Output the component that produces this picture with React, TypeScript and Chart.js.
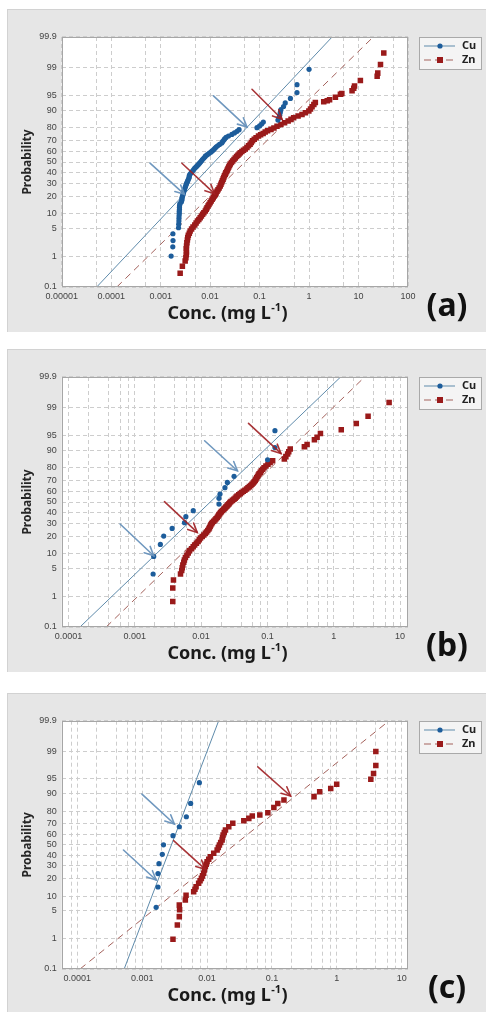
import React, { useEffect, useRef } from "react";
import { Chart, registerables } from "chart.js";
Chart.register(...registerables);

// ---------- data (x = concentration mg/L, p = cumulative probability %) ----------
const PROB_TICKS = [0.1, 1, 5, 10, 20, 30, 40, 50, 60, 70, 80, 90, 95, 99, 99.9];
const PROB_LABELS = ["0.1", "1", "5", "10", "20", "30", "40", "50", "60", "70", "80", "90", "95", "99", "99.9"];

const xDecadesA = [1e-5, 1e-4, 1e-3, 1e-2, 1e-1, 1, 10, 100];
const xLabelsA = ["0.00001", "0.0001", "0.001", "0.01", "0.1", "1", "10", "100"];
const xDecadesBC = [1e-4, 1e-3, 1e-2, 1e-1, 1, 10];
const xLabelsBC = ["0.0001", "0.001", "0.01", "0.1", "1", "10"];

const cuA = [[0.00163,1.0],[0.00176,1.8],[0.00178,2.6],[0.00177,3.8],[0.0023,5.2],[0.00232,6.2],[0.00234,7.2],[0.00235,8.2],[0.00236,9.2],[0.00238,10.2],[0.00238,11.2],[0.0024,12.2],[0.0024,13.2],[0.00242,14.2],[0.00245,15.2],[0.00262,16.2],[0.00268,17.2],[0.0027,18.2],[0.00272,19.2],[0.00278,20.2],[0.00285,21.2],[0.0029,22.4],[0.00295,23.6],[0.00303,24.8],[0.0031,26],[0.00318,27.2],[0.00325,28.4],[0.00333,29.6],[0.00342,30.8],[0.00352,32],[0.00362,33.2],[0.00372,34.4],[0.00378,35.6],[0.0038,36.8],[0.0039,38],[0.0041,39.2],[0.0043,40.4],[0.0045,41.6],[0.0047,42.8],[0.0049,44],[0.0052,45.2],[0.0055,46.4],[0.0058,47.6],[0.0061,48.8],[0.0064,50],[0.0067,51.2],[0.007,52.4],[0.0074,53.6],[0.0078,54.8],[0.0081,56],[0.0088,57.2],[0.0095,58.4],[0.0103,59.6],[0.011,60.8],[0.0118,62],[0.0125,63.2],[0.0132,64.4],[0.0142,65.6],[0.0155,66.8],[0.0172,68],[0.0178,69.2],[0.0188,70.4],[0.0196,71.6],[0.021,72.8],[0.0235,74],[0.0275,75.2],[0.031,76.4],[0.035,77.6],[0.0385,78.8],[0.0886,80.2],[0.1,81.4],[0.11,82.6],[0.119,83.8],[0.235,85.0],[0.245,86.3],[0.255,87.6],[0.262,88.9],[0.27,90.2],[0.305,91.5],[0.33,92.8],[0.42,94.2],[0.57,95.7],[0.57,97.2],[1.0,98.9]];

const znA = [[0.00248,0.3],[0.00275,0.5],[0.00313,0.72],[0.00324,0.9],[0.0033,1.1],[0.00333,1.3],[0.00329,1.6],[0.00334,1.9],[0.00339,2.3],[0.00347,2.7],[0.00353,3.1],[0.00363,3.5],[0.0038,3.9],[0.00395,4.4],[0.00422,4.9],[0.00451,5.4],[0.0049,6.0],[0.00521,6.6],[0.00555,7.2],[0.00592,7.8],[0.0063,8.4],[0.00667,9.1],[0.00706,9.8],[0.00748,10.5],[0.008,11.3],[0.00834,12.1],[0.00867,12.9],[0.00908,13.8],[0.0095,14.7],[0.01,15.7],[0.0105,16.7],[0.011,17.8],[0.01156,18.9],[0.01213,20.0],[0.0127,21.0],[0.01324,22.2],[0.0138,23.4],[0.01445,24.7],[0.0152,26.1],[0.016,27.6],[0.01656,29.1],[0.0171,30.6],[0.0177,32.1],[0.0183,33.6],[0.0189,35.1],[0.0195,36.6],[0.0202,38.0],[0.0208,39.4],[0.0216,40.8],[0.0223,42.2],[0.023,43.6],[0.0238,45.0],[0.0247,46.5],[0.0255,48.0],[0.027,49.5],[0.0286,51.0],[0.0304,52.5],[0.0322,54.0],[0.0343,55.3],[0.0364,56.6],[0.0385,57.8],[0.0407,59.0],[0.0439,60.2],[0.0473,61.4],[0.0513,62.7],[0.0556,64.0],[0.0598,65.5],[0.0643,67.0],[0.068,68.5],[0.072,70.0],[0.078,71.3],[0.085,72.6],[0.095,74.0],[0.105,75.0],[0.118,76.0],[0.13,77.0],[0.145,78.0],[0.17,79.0],[0.195,80.0],[0.225,81.2],[0.27,82.3],[0.32,83.4],[0.378,84.4],[0.432,85.4],[0.488,86.3],[0.6,87.2],[0.721,88.0],[0.845,88.8],[0.99,89.6],[1.07,90.5],[1.15,91.4],[1.25,92.2],[1.34,92.9],[1.98,93.2],[2.33,93.5],[2.6,93.8],[3.41,94.5],[4.3,95.3],[4.6,95.5],[7.4,96.1],[8.0,96.6],[8.3,97.0],[10.9,97.8],[23.8,98.3],[24.5,98.6],[27.8,99.2],[32.4,99.65]];

const cuB = [[0.00189,3.75],[0.00193,8.9],[0.00243,14.7],[0.00273,20],[0.00366,25.7],[0.00562,30.5],[0.00589,35.8],[0.00762,41.5],[0.0186,48],[0.0186,53.6],[0.0193,57.8],[0.0229,63.8],[0.0249,68.6],[0.0314,73.7],[0.1007,85.2],[0.13,91.1],[0.13,96.1]];

const znB = [[0.00374,0.69],[0.00374,1.67],[0.00383,2.7],[0.00489,3.75],[0.0051,4.5],[0.0052,5.2],[0.0053,6.0],[0.00548,6.8],[0.0056,7.6],[0.0058,8.5],[0.0061,9.4],[0.0064,10.4],[0.0067,11.4],[0.0072,12.4],[0.0076,13.4],[0.008,14.4],[0.0085,15.4],[0.009,16.4],[0.0094,17.5],[0.0098,18.6],[0.0104,19.7],[0.011,20.8],[0.0116,21.9],[0.0121,23.0],[0.0126,24.1],[0.0131,25.2],[0.0134,26.3],[0.0137,27.4],[0.014,28.5],[0.0144,29.6],[0.0148,30.7],[0.0155,31.8],[0.0162,32.9],[0.0168,34.0],[0.0175,35.1],[0.018,36.2],[0.0185,37.3],[0.019,38.4],[0.0196,39.5],[0.0202,40.6],[0.0211,41.7],[0.022,42.8],[0.0228,43.9],[0.0236,45.0],[0.0245,46.1],[0.0254,47.2],[0.0263,48.3],[0.0272,49.4],[0.0282,50.5],[0.0297,51.6],[0.0312,52.7],[0.0326,53.8],[0.0338,54.9],[0.035,56.0],[0.037,57.1],[0.039,58.2],[0.041,59.3],[0.0433,60.4],[0.0458,61.5],[0.0485,62.6],[0.051,63.7],[0.0535,64.8],[0.0562,65.9],[0.0585,67.0],[0.061,68.1],[0.0632,69.2],[0.0655,70.3],[0.067,71.4],[0.069,72.5],[0.071,73.6],[0.073,74.7],[0.075,75.8],[0.078,76.9],[0.081,78.0],[0.085,79.1],[0.089,80.2],[0.095,81.3],[0.102,82.4],[0.11,83.5],[0.12,84.6],[0.18,85.6],[0.19,86.9],[0.202,88.2],[0.21,89.3],[0.221,90.5],[0.361,91.4],[0.397,92.2],[0.512,93.8],[0.562,94.5],[0.631,95.5],[1.3,96.3],[2.19,97.4],[3.3,98.3],[6.85,99.3]];

const cuC = [[0.00164,6.0],[0.00175,14.7],[0.00175,23.7],[0.00181,32],[0.00204,40.7],[0.00213,50],[0.00298,59],[0.00373,67.4],[0.00479,75.8],[0.00558,84.9],[0.0076,93.9]];

const znC = [[0.00298,0.94],[0.00348,2.3],[0.00373,3.7],[0.00377,5.3],[0.00373,6.7],[0.00462,8.5],[0.00474,10.5],[0.00621,12.2],[0.0065,13.5],[0.00676,14.9],[0.00741,16.9],[0.0078,18.5],[0.00816,20.2],[0.0085,22],[0.00886,23.9],[0.0091,26.5],[0.00941,29.4],[0.0097,31.5],[0.01,33.7],[0.0106,36],[0.01125,38.4],[0.01265,41.7],[0.01428,44.9],[0.0149,47.4],[0.01549,49.9],[0.0162,52.3],[0.01705,54.8],[0.0173,57.3],[0.01766,59.7],[0.0184,62],[0.0192,64.4],[0.0216,67.4],[0.0249,70.4],[0.0368,72.6],[0.044,74.5],[0.0497,76.4],[0.065,77.1],[0.0865,78.8],[0.107,82.3],[0.123,84.9],[0.153,86.8],[0.445,88.5],[0.544,90.7],[0.805,92],[0.995,93.4],[3.34,94.9],[3.68,96.2],[3.99,97.6],[3.99,99]];

// fitted distribution lines: [x, p] at both ends
const cuFitA = [[5.1e-5, 0.1], [2.92, 99.9]];
const znFitA = [[1.3e-4, 0.1], [19.8, 99.9]];
const cuFitB = [[1.49e-4, 0.1], [1.27, 99.9]];
const znFitB = [[3.7e-4, 0.1], [2.93, 99.9]];
const cuFitC = [[5.27e-4, 0.1], [0.0151, 99.9]];
const znFitC = [[1.1e-4, 0.1], [6.41, 99.9]];

// annotation arrows: series, tail [x, p], tip [x, p]
const arrowsA = [
  { s: "Cu", from: [6.1e-4, 48.8], to: [3.03e-3, 21.2] },
  { s: "Cu", from: [0.0117, 94.9], to: [0.0556, 80.6] },
  { s: "Zn", from: [2.69e-3, 48.8], to: [0.01227, 21.7] },
  { s: "Zn", from: [0.0702, 96.4], to: [0.284, 85.5] },
];
const arrowsB = [
  { s: "Cu", from: [6.0e-4, 29.3], to: [0.00193, 9.2] },
  { s: "Cu", from: [0.0113, 93.5], to: [0.0353, 78] },
  { s: "Zn", from: [0.0028, 50.3], to: [0.00875, 22.6] },
  { s: "Zn", from: [0.0519, 97.4], to: [0.16, 88.5] },
];
const arrowsC = [
  { s: "Cu", from: [5.14e-4, 44.9], to: [0.00164, 19.1] },
  { s: "Cu", from: [9.9e-4, 89.7], to: [0.00313, 69.8] },
  { s: "Zn", from: [0.00305, 54.1], to: [0.00941, 27.1] },
  { s: "Zn", from: [0.0605, 97.4], to: [0.194, 88.8] },
];

// ---------- styles ----------
const CU = "#1d5d9b";
const ZN = "#9a1a1a";
const CU_LINE = "#5f8bab";
const ZN_LINE = "#a4625c";
const ARROW_CU = "rgba(104,146,188,0.95)";
const ARROW_ZN = "rgba(160,32,36,0.9)";
const PANEL_BG = "#e6e6e6";
const GRID = "#cdcdcd";
const TICK_FONT = "Liberation Sans";
const LABEL_FONT = "Noto Sans";

function probit(p: number): number {
  const a = [-3.969683028665376e1, 2.209460984245205e2, -2.759285104469687e2, 1.38357751867269e2, -3.066479806614716e1, 2.506628277459239];
  const b = [-5.447609879822406e1, 1.615858368580409e2, -1.556989798598866e2, 6.680131188771972e1, -1.328068155288572e1];
  const c = [-7.784894002430293e-3, -3.223964580411365e-1, -2.400758277161838, -2.549732539343734, 4.374664141464968, 2.938163982698783];
  const d = [7.784695709041462e-3, 3.224671290700398e-1, 2.445134137142996, 3.754408661907416];
  const pl = 0.02425;
  if (p < pl) {
    const q = Math.sqrt(-2 * Math.log(p));
    return (((((c[0] * q + c[1]) * q + c[2]) * q + c[3]) * q + c[4]) * q + c[5]) / ((((d[0] * q + d[1]) * q + d[2]) * q + d[3]) * q + 1);
  }
  if (p <= 1 - pl) {
    const q = p - 0.5;
    const r = q * q;
    return ((((((a[0] * r + a[1]) * r + a[2]) * r + a[3]) * r + a[4]) * r + a[5]) * q) / (((((b[0] * r + b[1]) * r + b[2]) * r + b[3]) * r + b[4]) * r + 1);
  }
  const q = Math.sqrt(-2 * Math.log(1 - p));
  return -(((((c[0] * q + c[1]) * q + c[2]) * q + c[3]) * q + c[4]) * q + c[5]) / ((((d[0] * q + d[1]) * q + d[2]) * q + d[3]) * q + 1);
}

const toPts = (arr: number[][]) => arr.map(([x, p]) => ({ x, y: probit(p / 100) }));
const Z_MIN = probit(0.001);
const Z_MAX = probit(0.999);

type PanelCfg = {
  letter: string;
  top: number;
  h: number;
  padTop: number;
  axisH: number;
  xMin: number;
  xMax: number;
  decades: number[];
  labels: string[];
  minor: number[];
  cu: number[][];
  zn: number[][];
  cuFit: number[][];
  znFit: number[][];
  arrows: { s: string; from: number[]; to: number[] }[];
};

const PANELS: PanelCfg[] = [
  { letter: "(a)", top: 9, h: 323, padTop: 28, axisH: 45, xMin: 1e-5, xMax: 100, decades: xDecadesA, labels: xLabelsA, minor: [1, 5], cu: cuA, zn: znA, cuFit: cuFitA, znFit: znFitA, arrows: arrowsA },
  { letter: "(b)", top: 349, h: 323, padTop: 28, axisH: 45, xMin: 7.9e-5, xMax: 13.2, decades: xDecadesBC, labels: xLabelsBC, minor: [1, 2, 4, 6, 8], cu: cuB, zn: znB, cuFit: cuFitB, znFit: znFitB, arrows: arrowsB },
  { letter: "(c)", top: 693, h: 319, padTop: 27.7, axisH: 43, xMin: 5.74e-5, xMax: 12.5, decades: xDecadesBC, labels: xLabelsBC, minor: [1, 2, 4, 6, 8], cu: cuC, zn: znC, cuFit: cuFitC, znFit: znFitC, arrows: arrowsC },
];

const CANVAS_W = 479;
const Y_AXIS_W = 54.7;
const PAD_RIGHT = 78;

function gridValues(cfg: PanelCfg): number[] {
  const out: number[] = [];
  for (let e = -6; e <= 2; e++) {
    for (const m of cfg.minor) {
      const v = m * Math.pow(10, e);
      if (v >= cfg.xMin * 0.999 && v <= cfg.xMax * 1.001) out.push(v);
    }
  }
  return out;
}

function buildConfig(cfg: PanelCfg): any {
  const panelPlugin = {
    id: "panelDeco" + cfg.letter,
    beforeDraw(chart: any) {
      const { ctx, chartArea, width, height } = chart;
      ctx.save();
      ctx.fillStyle = PANEL_BG;
      ctx.fillRect(0, 0, width, height);
      ctx.fillStyle = "#d2d2d2";
      ctx.fillRect(0, 0, width, 1);
      ctx.fillRect(0, 0, 1, height);
      ctx.fillStyle = "#ffffff";
      ctx.fillRect(chartArea.left, chartArea.top, chartArea.right - chartArea.left, chartArea.bottom - chartArea.top);
      ctx.restore();
    },
    afterDatasetsDraw(chart: any) {
      const { ctx, chartArea } = chart;
      const xs = chart.scales.x;
      const ys = chart.scales.y;
      ctx.save();
      ctx.beginPath();
      ctx.rect(chartArea.left, chartArea.top, chartArea.right - chartArea.left, chartArea.bottom - chartArea.top);
      ctx.clip();
      ctx.lineWidth = 1.6;
      ctx.lineCap = "round";
      for (const a of cfg.arrows) {
        const x1 = xs.getPixelForValue(a.from[0]);
        const y1 = ys.getPixelForValue(probit(a.from[1] / 100));
        const x2 = xs.getPixelForValue(a.to[0]);
        const y2 = ys.getPixelForValue(probit(a.to[1] / 100));
        ctx.strokeStyle = a.s === "Cu" ? ARROW_CU : ARROW_ZN;
        ctx.beginPath();
        ctx.moveTo(x1, y1);
        ctx.lineTo(x2, y2);
        ctx.stroke();
        const ang = Math.atan2(y2 - y1, x2 - x1);
        const L = 10;
        const w = 0.45;
        ctx.beginPath();
        ctx.moveTo(x2 - L * Math.cos(ang - w), y2 - L * Math.sin(ang - w));
        ctx.lineTo(x2, y2);
        ctx.lineTo(x2 - L * Math.cos(ang + w), y2 - L * Math.sin(ang + w));
        ctx.stroke();
      }
      ctx.restore();
    },
    afterDraw(chart: any) {
      const { ctx, chartArea } = chart;
      ctx.save();
      // plot border
      ctx.strokeStyle = "#a6a6a6";
      ctx.lineWidth = 1;
      ctx.strokeRect(Math.round(chartArea.left) + 0.5, Math.round(chartArea.top) + 0.5, Math.round(chartArea.right - chartArea.left) - 1, Math.round(chartArea.bottom - chartArea.top) - 1);

      // legend
      const lx = Math.round(chartArea.right + 11);
      const ly = Math.round(chartArea.top);
      const lw = 63;
      const lh = 33;
      ctx.fillStyle = "#f4f4f4";
      ctx.fillRect(lx, ly, lw, lh);
      ctx.strokeStyle = "#a9a9a9";
      ctx.strokeRect(lx + 0.5, ly + 0.5, lw - 1, lh - 1);
      const r1 = ly + 9;
      const r2 = ly + 23;
      ctx.strokeStyle = CU_LINE;
      ctx.lineWidth = 1;
      ctx.beginPath();
      ctx.moveTo(lx + 5, r1);
      ctx.lineTo(lx + 36, r1);
      ctx.stroke();
      ctx.fillStyle = CU;
      ctx.beginPath();
      ctx.arc(lx + 21, r1, 2.6, 0, Math.PI * 2);
      ctx.fill();
      ctx.strokeStyle = ZN_LINE;
      ctx.setLineDash([7, 4]);
      ctx.beginPath();
      ctx.moveTo(lx + 5, r2);
      ctx.lineTo(lx + 37, r2);
      ctx.stroke();
      ctx.setLineDash([]);
      ctx.fillStyle = ZN;
      ctx.fillRect(lx + 18, r2 - 3, 6, 6);
      ctx.fillStyle = "#222";
      ctx.font = `bold 11px "${LABEL_FONT}"`;
      ctx.textBaseline = "middle";
      ctx.textAlign = "left";
      ctx.fillText("Cu", lx + 43, r1);
      ctx.fillText("Zn", lx + 43, r2);

      // y axis title
      const cy = (chartArea.top + chartArea.bottom) / 2;
      ctx.save();
      ctx.translate(21, cy);
      ctx.rotate(-Math.PI / 2);
      ctx.font = `bold 12px "${LABEL_FONT}"`;
      ctx.fillStyle = "#262626";
      ctx.textAlign = "center";
      ctx.textBaseline = "middle";
      ctx.fillText("Probability", 0, 0);
      ctx.restore();

      // x axis title with superscript
      const main1 = "Conc. (mg L";
      const sup = "-1";
      const main2 = ")";
      const fMain = `bold 18px "${LABEL_FONT}"`;
      const fSup = `bold 11px "${LABEL_FONT}"`;
      ctx.font = fMain;
      const w1 = ctx.measureText(main1).width;
      const w3 = ctx.measureText(main2).width;
      ctx.font = fSup;
      const w2 = ctx.measureText(sup).width;
      const total = w1 + w2 + w3;
      const tx = 220 - total / 2;
      const ty = chartArea.bottom + 27;
      ctx.fillStyle = "#1a1a1a";
      ctx.textAlign = "left";
      ctx.textBaseline = "middle";
      ctx.font = fMain;
      ctx.fillText(main1, tx, ty);
      ctx.font = fSup;
      ctx.fillText(sup, tx + w1 + 0.5, ty - 6);
      ctx.font = fMain;
      ctx.fillText(main2, tx + w1 + w2 + 1, ty);

      // panel letter
      ctx.font = `bold 32px "${LABEL_FONT}"`;
      ctx.fillStyle = "#111";
      ctx.textAlign = "center";
      ctx.textBaseline = "middle";
      ctx.fillText(cfg.letter, 440, chartArea.bottom + 20);
      ctx.restore();
    },
  };

  const gv = gridValues(cfg);
  return {
    type: "scatter",
    data: {
      datasets: [
        { label: "Cu", data: toPts(cfg.cu), pointStyle: "circle", pointRadius: 2.6, backgroundColor: CU, borderColor: CU, borderWidth: 0, showLine: false },
        { label: "Zn", data: toPts(cfg.zn), pointStyle: "rect", pointRadius: 3.9, backgroundColor: ZN, borderColor: ZN, borderWidth: 0, showLine: false },
        { label: "Cu fit", data: toPts(cfg.cuFit), showLine: true, borderColor: CU_LINE, borderWidth: 1, pointRadius: 0 },
        { label: "Zn fit", data: toPts(cfg.znFit), showLine: true, borderColor: ZN_LINE, borderWidth: 1, borderDash: [7, 5], pointRadius: 0 },
      ],
    },
    options: {
      responsive: false,
      animation: false,
      devicePixelRatio: 1,
      events: [],
      layout: { padding: { top: cfg.padTop, right: PAD_RIGHT, left: 0, bottom: 0 } },
      plugins: { legend: { display: false }, tooltip: { enabled: false } },
      scales: {
        x: {
          type: "logarithmic",
          min: cfg.xMin,
          max: cfg.xMax,
          afterBuildTicks: (s: any) => {
            s.ticks = gv.map((v) => ({ value: v }));
          },
          afterFit: (s: any) => {
            s.height = cfg.axisH;
          },
          ticks: {
            autoSkip: false,
            maxRotation: 0,
            minRotation: 0,
            padding: 4,
            color: "#444",
            font: { family: TICK_FONT, size: 9 },
            callback: (v: number) => {
              const i = cfg.decades.findIndex((d) => Math.abs(d - v) / d < 1e-6);
              return i >= 0 ? cfg.labels[i] : "";
            },
          },
          grid: { color: GRID, lineWidth: 1, drawTicks: false },
          border: { display: false, dash: [4, 3] },
        },
        y: {
          type: "linear",
          min: Z_MIN,
          max: Z_MAX,
          afterBuildTicks: (s: any) => {
            s.ticks = PROB_TICKS.map((p) => ({ value: probit(p / 100) }));
          },
          afterFit: (s: any) => {
            s.width = Y_AXIS_W;
          },
          ticks: {
            autoSkip: false,
            padding: 5,
            color: "#444",
            font: { family: TICK_FONT, size: 9 },
            callback: (_v: number, i: number) => PROB_LABELS[i],
          },
          grid: { color: GRID, lineWidth: 1, drawTicks: false },
          border: { display: false, dash: [4, 3] },
        },
      },
    },
    plugins: [panelPlugin],
  };
}

function Panel({ cfg }: { cfg: PanelCfg }) {
  const ref = useRef<HTMLCanvasElement>(null);
  useEffect(() => {
    if (!ref.current) return;
    const chart = new Chart(ref.current, buildConfig(cfg));
    return () => chart.destroy();
  }, [cfg]);
  return (
    <canvas
      ref={ref}
      width={CANVAS_W}
      height={cfg.h}
      style={{ position: "absolute", left: 7, top: cfg.top, width: CANVAS_W, height: cfg.h }}
    />
  );
}

export default function App() {
  return (
    <div style={{ position: "absolute", left: 0, top: 0, width: 486, height: 1012, background: "#ffffff", overflow: "hidden" }}>
      {PANELS.map((p) => (
        <Panel key={p.letter} cfg={p} />
      ))}
    </div>
  );
}
